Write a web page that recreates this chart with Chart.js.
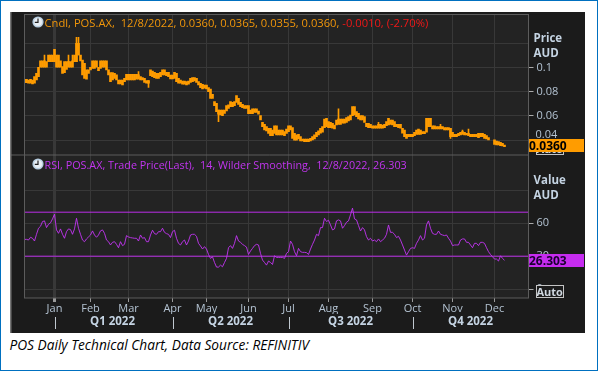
<!DOCTYPE html>
<html><head><meta charset="utf-8">
<script src="https://cdn.jsdelivr.net/npm/chart.js@4"></script>
<style>
html,body{margin:0;padding:0;background:#fff;overflow:hidden}
#page{position:relative;width:598px;height:371px;box-sizing:border-box;border:1.5px solid #0070c0;overflow:hidden}
#wrap{position:absolute;left:8.5px;top:10.5px;width:575px;height:321px;background:#1b1b1b}
canvas{display:block}
.t{position:absolute;white-space:pre;font-family:"Open Sans",sans-serif;line-height:14px}
.side{font-weight:700;color:#c4d3e2;font-size:11.5px}
.val{position:absolute;left:519px;width:55px;height:13px;font:700 12px/13px "Open Sans",sans-serif;color:#000;padding-left:0.5px;box-sizing:border-box}
.auto{position:absolute;left:526px;width:26px;height:11px;border:1px solid #c4c4c4;box-sizing:content-box;background:#1b1b1b;color:#d0d8e0;font:700 11px/11px "Open Sans",sans-serif;text-align:center}
#cap{position:absolute;left:8.5px;top:336px;font:italic 13.7px/16px "Open Sans",sans-serif;color:#000;white-space:pre}
.clock{position:absolute;left:22px;width:12px;height:12px}
</style></head><body>
<div id="page">
<div id="wrap"><canvas id="c" width="575" height="321"></canvas>
<svg class="clock" style="top:4px" viewBox="0 0 12 12"><circle cx="6" cy="6" r="5.6" fill="#b9cfe2"/><circle cx="6" cy="6" r="4" fill="#e8eef4"/><path d="M6 2.6V6.4H2.8" stroke="#222" stroke-width="1.2" fill="none"/></svg>
<svg class="clock" style="top:146px" viewBox="0 0 12 12"><circle cx="6" cy="6" r="5.6" fill="#b9cfe2"/><circle cx="6" cy="6" r="4" fill="#e8eef4"/><path d="M6 2.6V6.4H2.8" stroke="#222" stroke-width="1.2" fill="none"/></svg>
<div class="t" style="left:35px;top:4.5px;font-size:11.2px;color:#f0960a">Cndl, POS.AX,  12/8/2022, 0.0360, 0.0365, 0.0355, 0.0360, <span style="color:#f01818">-0.0010, (-2.70%)</span></div>
<div class="t" style="left:35px;top:146px;font-size:10.8px;color:#c235f0">RSI, POS.AX, Trade Price(Last),  14, Wilder Smoothing,  12/8/2022, 26.303</div>
<div class="t side" style="left:524px;top:19px">Price</div>
<div class="t side" style="left:524px;top:34px">AUD</div>
<div class="t side" style="left:524px;top:161px">Value</div>
<div class="t side" style="left:524px;top:176px">AUD</div>
<div class="t" id="p04" style="left:526px;top:115px;font-size:11px;color:#b4c3d2">0.04</div>
<div class="auto" style="top:130.5px">Auto</div>
<div class="val" style="top:127px;background:#ff9c00">0.0360</div>
<div class="val" style="top:242px;background:#c62cf0;color:#1a0030">26.303</div>
<div class="auto" style="top:273px">Auto</div>
</div>
<div id="cap">POS Daily Technical Chart, Data Source: REFINITIV</div>
</div>
<script>
const bodyHigh=[
.0902,.0902,.0896,.0902,.0896,.0924,.0951,.1001,.1053,.1053,
.1053,.1047,.1102,.1102,.1102,.1149,.1102,.1102,.1053,.1006,
.1047,.1047,.1047,.1047,.1053,.1102,.1198,.1198,.1102,.1061,
.1033,.0979,.0979,.1001,.1053,.1053,.1053,.1001,.1053,.1053,
.1053,.1053,.0979,.0957,.0957,.0951,.0938,.0896,.0896,.0896,
.0910,.0943,.0943,.0943,.0943,.0943,.0943,.0938,.0924,.0916,
.0910,.0891,.0891,
.0979,.0970,.0959,.0951,.0951,.0959,.0979,.0979,.0959,.0959,
.0937,.0937,.0959,.0951,.0910,.0896,.0888,.0888,.0883,.0888,
.0910,.0915,.0915,.0910,.0883,.0869,.0861,.0855,.0855,.0833,
.0822,.0778,.0718,.0704,.0649,.0649,.0649,.0649,.0685,.0691,
.0718,.0712,.0718,.0767,.0745,.0712,.0696,.0685,.0685,.0685,
.0649,.0658,.0658,.0658,.0641,.0603,.0548,.0531,.0512,.0498,
.0498,.0485,.0520,.0520,.0485,.0485,.0485,.0471,.0493,.0520,
.0520,.0504,.0457,.0444,.0449,.0430,.0411,.0411,.0411,.0411,
.0416,.0430,.0444,.0466,.0477,.0499,.0512,.0575,.0581,.0553,
.0548,.0540,.0526,.0567,.0575,.0575,.0575,.0575,.0586,.0595,
.0608,.0677,.0677,.0636,.0622,.0603,.0603,.0595,.0540,.0540,
.0531,.0520,.0520,.0520,.0531,.0531,.0526,.0531,.0553,.0581,
.0567,.0567,.0553,.0531,.0531,.0531,.0499,.0485,.0449,.0449,
.0449,.0449,.0466,.0485,.0493,.0485,.0471,.0471,.0581,.0581,
.0581,.0520,.0520,.0512,.0512,.0512,.0512,.0504,.0504,.0504,
.0499,.0466,.0449,.0449,.0458,.0466,.0471,.0466,.0458,.0458,
.0449,.0449,.0449,.0449,.0458,.0458,.0458,.0449,.0438,.0422,
null,null,.0403,.0394,.0389,.0383,.0375,.0361];
const bodyLow=[
.0874,.0874,.0869,.0869,.0863,.0869,.0896,.0924,.1001,.1001,
.1001,.1001,.1047,.1047,.1047,.1047,.1001,.1001,.1001,.0951,
.0957,.0984,.1001,.1001,.1001,.1047,.1047,.1102,.1053,.0938,
.0910,.0902,.0951,.0979,.0992,.0992,.1001,.0973,.0992,.1001,
.1001,.0979,.0938,.0883,.0896,.0910,.0896,.0863,.0863,.0855,
.0883,.0896,.0896,.0896,.0896,.0896,.0902,.0902,.0896,.0896,
.0877,.0869,.0869,
.0932,.0924,.0915,.0910,.0910,.0924,.0937,.0937,.0932,.0924,
.0905,.0905,.0910,.0883,.0869,.0869,.0861,.0861,.0855,.0861,
.0877,.0883,.0888,.0877,.0855,.0833,.0822,.0828,.0822,.0800,
.0745,.0745,.0685,.0636,.0614,.0608,.0603,.0622,.0641,.0663,
.0677,.0677,.0685,.0712,.0696,.0677,.0669,.0663,.0663,.0619,
.0619,.0619,.0630,.0630,.0614,.0567,.0512,.0485,.0477,.0457,
.0438,.0438,.0457,.0444,.0444,.0444,.0444,.0438,.0457,.0471,
.0485,.0416,.0402,.0402,.0411,.0394,.0394,.0389,.0389,.0389,
.0394,.0403,.0411,.0430,.0444,.0458,.0466,.0504,.0512,.0504,
.0504,.0499,.0493,.0526,.0531,.0531,.0540,.0540,.0548,.0559,
.0567,.0603,.0608,.0595,.0575,.0567,.0567,.0548,.0512,.0504,
.0504,.0499,.0499,.0499,.0499,.0499,.0499,.0504,.0520,.0526,
.0531,.0526,.0512,.0512,.0504,.0499,.0458,.0430,.0416,.0430,
.0430,.0430,.0438,.0449,.0449,.0449,.0455,.0455,.0466,.0512,
.0512,.0493,.0493,.0493,.0493,.0493,.0493,.0485,.0485,.0485,
.0430,.0430,.0430,.0430,.0438,.0444,.0449,.0444,.0444,.0438,
.0430,.0430,.0430,.0430,.0422,.0430,.0430,.0416,.0411,.0403,
null,null,.0367,.0361,.0361,.0356,.0353,.0347];
const spikeSession=[10,22,24,26,27,57,62,97,157,177,208,213,219,222];
const spikeTop=[.1102,.1102,.1102,.1247,.1247,.0965,.0891,.0649,.0658,.0548,.0531,.0499,.0485,.0493];
const spikeBottom=[.1053,.1047,.1053,.1047,.1102,.0938,.0836,.0553,.0575,.0531,.0512,.0416,.0471,.0458];
const rsi=[
45.3,45.3,44.7,47.2,46.3,43.8,49.9,55.4,57.2,61.5,62.1,56,59,60.3,63.9,68.2,53.9,50.8,54.8,49.9,
46.3,52.3,54.8,54.2,49.9,54.8,64.5,55.4,49.9,44.7,43.2,45.7,47.5,49.3,53,49.3,47.2,49.3,53,53.9,
50.8,44.7,43.2,40.2,42.6,43.2,40.8,37.7,43.2,39.6,40.8,48.7,47.5,46.9,46.6,46.3,46.3,43.8,49.3,46.3,
46.9,43.2,43.2,49.3,53.6,50.5,49.9,52.3,52.3,55.4,51.7,50.5,49.9,46.9,52.3,53.6,46.3,41.7,40.2,43.2,
44.7,40.2,43.8,49.3,
49.9,49.9,48.1,41.7,39.3,36.5,38.7,36.5,31.6,28,29.5,24.3,20.1,20.1,21.9,20.4,24.3,28,37.7,39.6,
37.1,41.7,48.7,43.8,42.6,40.8,39.6,38.3,31.6,34.7,37.1,39.6,40.8,40.2,32.6,26.5,24.3,21.9,25.6,24.3,
22.5,30.4,28.9,28.9,28.9,28.9,28,32.6,34.1,43.8,40.8,34.1,30.4,37.1,34.1,33.5,33.5,33.2,31.6,36.5,
40.8,44.7,49.9,48.7,56,56,64.5,61.5,62.7,58.4,53.9,54.8,62.1,63,62.1,55.4,57.8,60.9,62.1,67.6,
73.7,63.9,63,57.8,52.9,56,53.9,47.8,44.7,46.3,43.8,44.7,43.2,45.7,43.2,44.7,46.3,49.9,58.4,51.7,
51.7,49.9,46.9,48.1,44.7,40.2,35.6,31,34.1,37.1,37.7,37.1,41.7,44.7,48.7,44.7,46.3,58.4,62.1,55.4,
50.8,49.9,49.9,52.9,49.9,49.3,48.7,49.3,46.3,43.8,39.6,40.2,40.2,40.2,44.7,45.7,45.7,42.6,42.6,40.2,
37.7,41.7,41.7,39.6,42.6,42.6,41.7,37.7,34.1,31.6,29.5,27.4,27.4,25.6,30.4,28,26.3];
const rsiLevels=[70,30];
const monthLabels=['Jan','Feb','Mar','Apr','May','Jun','Jul','Aug','Sep','Oct','Nov','Dec'];
const monthSessions=[15,33,52,74,91,112,132,152,174,194,214,235];
const quarterLabels=['Q1 2022','Q2 2022','Q3 2022','Q4 2022'];
const quarterCentres=[44,103,163,223];
const quarterStarts=[15,74,132,194];
const priceTicks=[0.12,0.1,0.08,0.06,0.04];
const priceMarked=[0.1,0.08,0.06,0.04];
const priceLabelled=[0.1,0.08,0.06];
const rsiTicks=[90,60,30,0];
const rsiLabelled=[60,30,0];
const sessionCount=252;

Chart.defaults.font.family='"Open Sans",sans-serif';
Chart.defaults.font.size=11;
Chart.defaults.color='#b4c3d2';
const GRID='#383838',FRAME='#5c5c5c';
const noPad=s=>{s.width=56.5;s.paddingTop=0;s.paddingBottom=0;};
const framePlugin={id:'frame',
 beforeDraw(ch){const a=ch.chartArea,c=ch.ctx;c.save();c.fillStyle='#232323';c.fillRect(a.left,a.top,a.width,a.height);c.restore();},
 afterDraw(ch){const a=ch.chartArea,c=ch.ctx,sep=ch.scales.yPrice.bottom,xs=ch.scales.x;c.save();
  c.strokeStyle=FRAME;c.lineWidth=1;
  c.strokeRect(a.left,a.top,a.width,a.height);
  c.beginPath();c.moveTo(1,sep);c.lineTo(a.right,sep);c.stroke();
  c.strokeStyle='#c0c8d0';
  quarterStarts.forEach(q=>{const p=Math.round(xs.getPixelForValue(q))+.5;c.beginPath();c.moveTo(p,305);c.lineTo(p,317);c.stroke();});
  c.fillStyle='#777';c.fillRect(0,0,1.5,ch.height);
  c.restore();}};
const xTicksFrom=(list,names)=>({afterBuildTicks(s){s.ticks=list.map(v=>({value:v}));},ticks:{autoSkip:false,maxRotation:0,callback:(v)=>names[list.indexOf(v)]}});
new Chart(document.getElementById('c'),{
 type:'bar',
 data:{datasets:[
  {type:'bar',order:2,label:'Price range',xAxisID:'x',yAxisID:'yPrice',backgroundColor:'#ff9c00',barThickness:2,grouped:false,
   data:bodyHigh.map((h,i)=>h===null?null:{x:i,y:[bodyLow[i],h]}).filter(d=>d)},
  {type:'bar',order:2,label:'Price spikes',xAxisID:'x',yAxisID:'yPrice',backgroundColor:'#ff9c00',barThickness:1,grouped:false,
   data:spikeSession.map((s,i)=>({x:s,y:[spikeBottom[i],spikeTop[i]]}))},
  ...rsiLevels.map(l=>({type:'line',order:1,label:'Level '+l,xAxisID:'x',yAxisID:'yRsi',borderColor:'#bb2ee8',borderWidth:1,pointRadius:0,
   data:[{x:0,y:l},{x:sessionCount,y:l}]})),
  {type:'line',order:0,label:'RSI',xAxisID:'x',yAxisID:'yRsi',borderColor:'#c435f5',borderWidth:0.9,pointRadius:0,tension:0,
   data:rsi.map((v,i)=>({x:i,y:v}))}
 ]},
 options:{responsive:false,animation:false,events:[],
  layout:{padding:{left:14.5,top:2.5,right:0,bottom:0}},
  plugins:{legend:{display:false},tooltip:{enabled:false}},
  scales:{
   x:{type:'linear',min:0,max:sessionCount,offset:false,position:'bottom',
    grid:{offset:false,color:GRID,lineWidth:c=>c.index===0?3:1,tickLength:4,tickColor:'#999',drawTicks:true},border:{display:false},
    afterFit(s){s.height=16;},...xTicksFrom(monthSessions,monthLabels),
    ticks:{...xTicksFrom(monthSessions,monthLabels).ticks,padding:0,color:'#b4c3d2',font:{size:11}}},
   x2:{type:'linear',min:0,max:sessionCount,offset:false,position:'bottom',
    grid:{display:false,offset:false,drawTicks:false},border:{display:false},
    afterFit(s){s.height=19;},...xTicksFrom(quarterCentres,quarterLabels),
    ticks:{...xTicksFrom(quarterCentres,quarterLabels).ticks,padding:1,color:'#c4d3e2',font:{size:11.5,weight:'700'}}},
   yPrice:{type:'linear',position:'right',stack:'panes',stackWeight:140.5,min:0.0279,max:0.1435,
    grid:{color:GRID,tickLength:5,tickColor:c=>priceMarked.includes(c.tick&&c.tick.value)?'#aaa':'transparent'},border:{display:false},
    afterBuildTicks(s){s.ticks=priceTicks.map(v=>({value:v}));},afterFit:noPad,
    ticks:{crossAlign:'near',padding:3,callback:v=>priceLabelled.includes(v)?String(v):''}},
   yRsi:{type:'linear',position:'right',stack:'panes',stackWeight:143,min:-8,max:122,
    grid:{color:GRID,tickLength:5,tickColor:c=>rsiLabelled.includes(c.tick&&c.tick.value)?'#aaa':'transparent'},border:{display:false},
    afterBuildTicks(s){s.ticks=rsiTicks.map(v=>({value:v}));},afterFit:noPad,
    ticks:{crossAlign:'near',padding:3,callback:v=>rsiLabelled.includes(v)?String(v):''}}
  }},
 plugins:[framePlugin]
});
</script>
</body></html>
